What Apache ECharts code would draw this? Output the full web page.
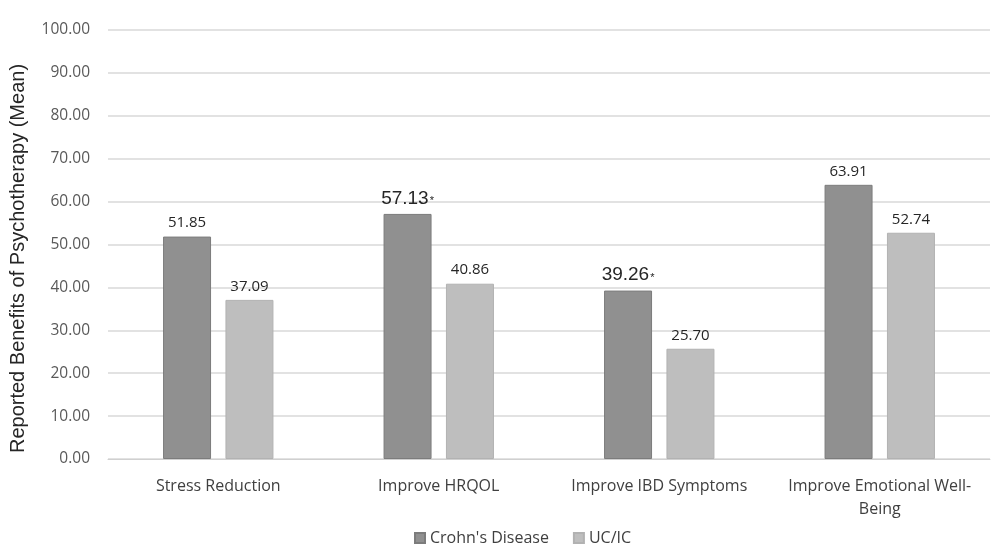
<!DOCTYPE html>
<html>
<head>
<meta charset="utf-8">
<script src="https://cdn.jsdelivr.net/npm/echarts@6/dist/echarts.min.js"></script>
<style>
  html, body { margin: 0; padding: 0; background: #fff; }
  #chart { width: 1000px; height: 559px; }
</style>
</head>
<body>
<div id="chart"></div>
<script>
const categories = ["Stress Reduction", "Improve HRQOL", "Improve IBD Symptoms", "Improve Emotional Well-\nBeing"];
const crohnValues = [51.85, 57.13, 39.26, 63.91];
const ucValues = [37.09, 40.86, 25.70, 52.74];
// significant differences marked with an asterisk
const crohnStar = [false, true, true, false];
const seriesNames = ["Crohn's Disease", "UC/IC"];

const myChart = echarts.init(document.getElementById("chart"));

function labelFor(stars) {
  return {
    show: true,
    position: "top",
    distance: 6,
    formatter: args => {
      const v = Number(args.value).toFixed(2);
      return stars && stars[args.dataIndex] ? `{big|${v}}{star|*}` : `{n|${v}}`;
    },
    rich: {
      n: { fontFamily: "Open Sans", fontSize: 15, color: "#262626" },
      big: { fontFamily: "Liberation Sans", fontSize: 19, color: "#262626" },
      star: { fontFamily: "Liberation Sans", fontSize: 11, color: "#262626", padding: [6, 0, 0, 1] }
    }
  };
}

const option = {
  animation: false,
  textStyle: { fontFamily: "Open Sans" },
  grid: { left: 107, right: 10, top: 30, bottom: 100 },
  legend: {
    bottom: 8,
    left: 409,
    itemWidth: 10,
    itemHeight: 10,
    itemGap: 24,
    icon: "rect",
    textStyle: { fontFamily: "Open Sans", fontSize: 16, color: "#404040" },
    data: seriesNames
  },
  xAxis: {
    type: "category",
    data: categories,
    axisTick: { show: false },
    axisLine: { lineStyle: { color: "#d0d0d0", width: 1 } },
    axisLabel: {
      interval: 0,
      hideOverlap: false,
      margin: 16,
      fontFamily: "Open Sans",
      fontSize: 16,
      color: "#404040",
      lineHeight: 23
    }
  },
  yAxis: {
    type: "value",
    min: 0,
    max: 100,
    interval: 10,
    name: "Reported Benefits of Psychotherapy (Mean)",
    nameLocation: "middle",
    nameGap: 80,
    nameTextStyle: {
      fontFamily: "Liberation Sans",
      fontSize: 20,
      color: "#262626",
      padding: [0, 28, 0, 0]
    },
    axisLine: { show: false },
    axisTick: { show: false },
    splitLine: { lineStyle: { color: "#d9d9d9", width: 1.5 } },
    axisLabel: {
      margin: 18,
      fontFamily: "Open Sans",
      fontSize: 15.5,
      color: "#595959",
      formatter: v => v.toFixed(2)
    }
  },
  series: [
    {
      name: seriesNames[0],
      type: "bar",
      data: crohnValues,
      barWidth: 48,
      barGap: "30%",
      itemStyle: { color: "#909090", borderColor: "#7c7c7c", borderWidth: 1 },
      label: labelFor(crohnStar)
    },
    {
      name: seriesNames[1],
      type: "bar",
      data: ucValues,
      barWidth: 48,
      itemStyle: { color: "#bebebe", borderColor: "#b2b2b2", borderWidth: 1 },
      label: labelFor(null)
    }
  ]
};
myChart.setOption(option);
</script>
</body>
</html>
